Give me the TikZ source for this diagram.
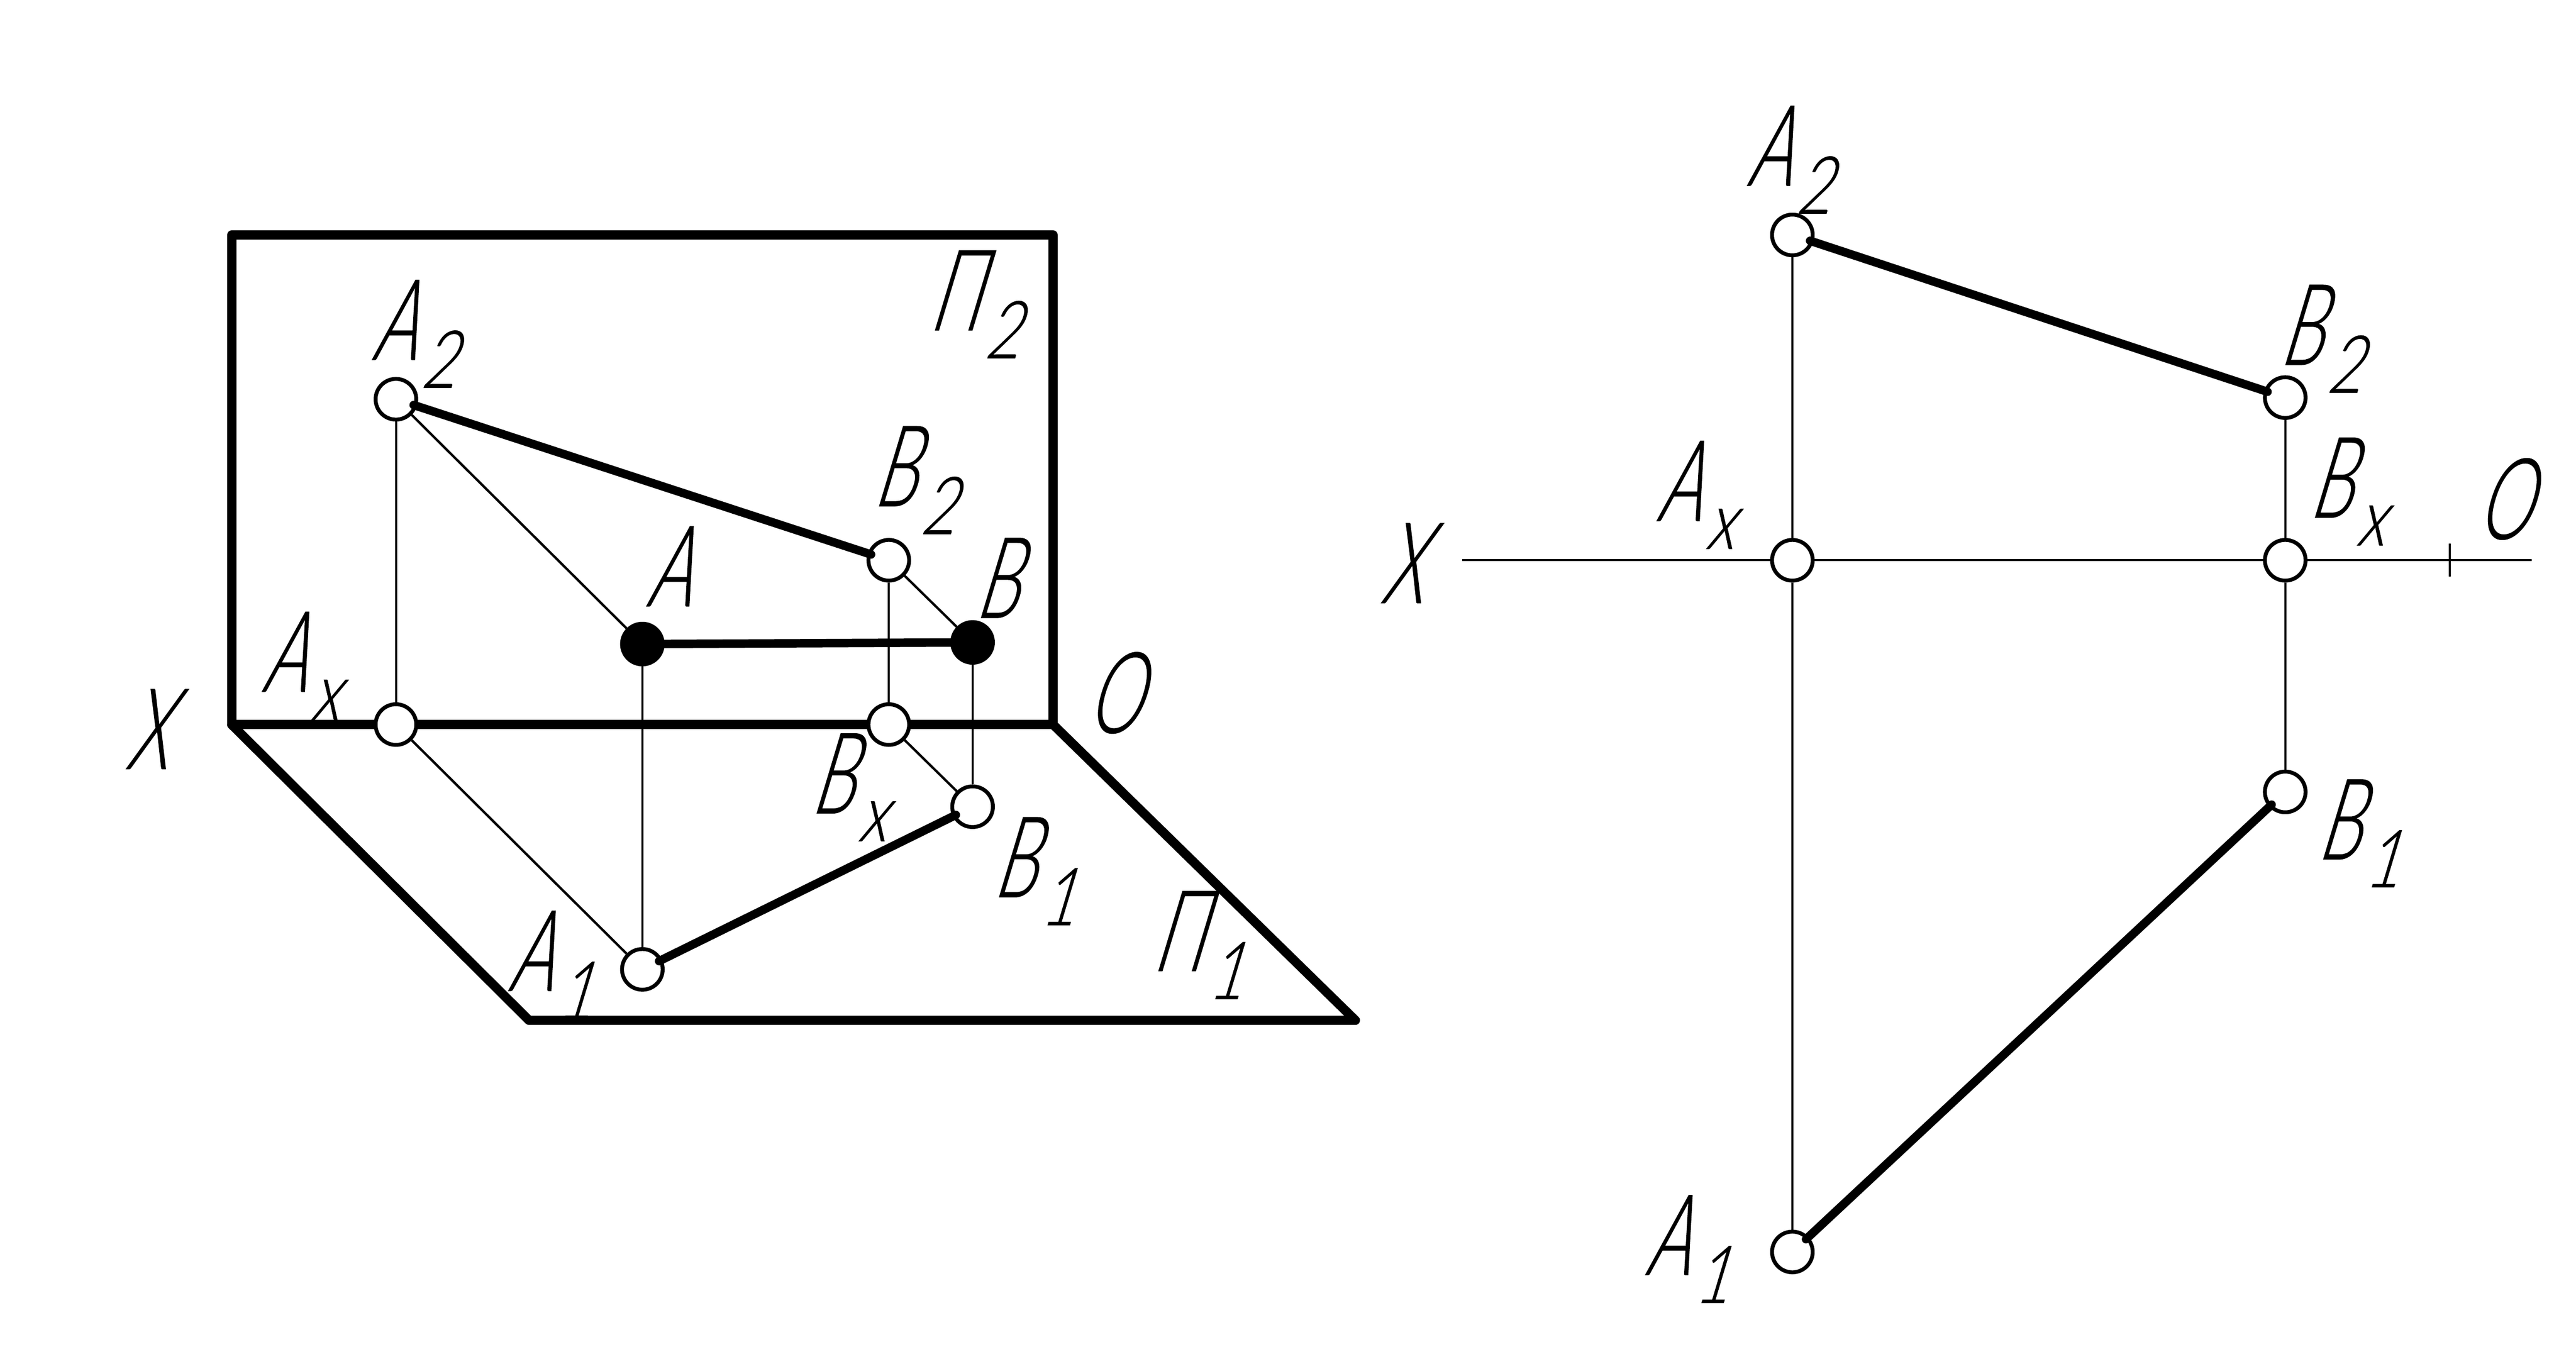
\documentclass[tikz,border=0pt]{standalone}
\usepackage{fontspec}
\setmainfont[FakeSlant=0.3,FakeStretch=0.6,FakeBold=0.6]{Lato Light}
\newfontfamily\subfont[FakeSlant=0.3,FakeStretch=0.75,FakeBold=0.6]{Lato Light}
\newcommand{\lab}[2]{#1\kern4pt\raisebox{-0.81cm}{\subfont\fontsize{66}{66}\selectfont #2}}
\tikzset{
  framel/.style={line width=7.6pt,line join=round,line cap=round},
  thickl/.style={line width=7pt,line cap=round,shorten <=-3pt,shorten >=-3pt},
  thinl/.style={line width=2pt},
  vthinl/.style={line width=1.7pt},
  opt/.style={circle,draw,fill=white,line width=3.2pt,minimum size=1.18cm,inner sep=0pt},
  spt/.style={circle,draw,fill=black,line width=3.2pt,minimum size=1.18cm,inner sep=0pt},
  lbl/.style={anchor=base west,inner sep=0pt,outer sep=0pt,font=\fontsize{93}{93}\selectfont}
}
\begin{document}
\begin{tikzpicture}[x=0.04765cm,y=-0.04765cm]
\useasboundingbox (0,0) rectangle (1568,833);
% plane corners
\coordinate (f1) at (141,143);
\coordinate (f2) at (641,143);
\coordinate (f3) at (641,441);
\coordinate (f4) at (141,441);
\coordinate (g1) at (322,621);
\coordinate (g2) at (825,621);
\draw[framel] (f1) -- (f2) -- (f3) -- (f4) -- cycle;
\draw[framel] (f4) -- (g1) -- (g2) -- (f3);
% left points
\node[opt] (lA2) at (241,243) {};
\node[opt] (lB2) at (541,341) {};
\node[spt] (lA) at (391,392) {};
\node[spt] (lB) at (592,391) {};
\node[opt] (lAx) at (241,441) {};
\node[opt] (lBx) at (541,441) {};
\node[opt] (lA1) at (391,590) {};
\node[opt] (lB1) at (592,491) {};
\draw[vthinl] (lA2) -- (lAx);
\draw[thinl] (lA2) -- (lA);
\draw[vthinl] (lA) -- (lA1);
\draw[thinl] (lAx) -- (lA1);
\draw[vthinl] (lB2) -- (lBx);
\draw[thinl] (lB2) -- (lB);
\draw[vthinl] (lB) -- (lB1);
\draw[thinl] (lBx) -- (lB1);
\draw[thickl] (lA2) -- (lB2);
\draw[thickl] (lA) -- (lB);
\draw[thickl] (lA1) -- (lB1);
% left labels
\node[lbl] (tlA2) at (226,219) {\lab{A}{2}};
\node[lbl] (tlP2) at (565,201) {\lab{Π}{2}};
\node[lbl] (tlB2) at (531,308) {\lab{B}{2}};
\node[lbl] (tlA) at (393,369) {A};
\node[lbl] (tlB) at (593,376) {B};
\node[lbl] (tlAx) at (159,421) {\lab{A}{x}};
\node[lbl] (tlO) at (661,446) {O};
\node[lbl] (tlX) at (76,468) {X};
\node[lbl] (tlBx) at (493,495) {\lab{B}{x}};
\node[lbl] (tlB1) at (604,546) {\lab{B}{1}};
\node[lbl] (tlA1) at (309,603) {\lab{A}{1}};
\node[lbl] (tlP1) at (701,591) {\lab{Π}{1}};
% right: axis
\coordinate (xa) at (890,341);
\coordinate (xb) at (1541,341);
\coordinate (t1) at (1491,331);
\coordinate (t2) at (1491,351);
\draw[vthinl] (xa) -- (xb);
\draw[vthinl] (t1) -- (t2);
% right points
\node[opt] (rA2) at (1091,143) {};
\node[opt] (rB2) at (1391,242) {};
\node[opt] (rAx) at (1091,341) {};
\node[opt] (rBx) at (1391,341) {};
\node[opt] (rB1) at (1391,482) {};
\node[opt] (rA1) at (1091,762) {};
\draw[vthinl] (rA2) -- (rAx);
\draw[vthinl] (rAx) -- (rA1);
\draw[vthinl] (rB2) -- (rBx);
\draw[vthinl] (rBx) -- (rB1);
\draw[thickl] (rA2) -- (rB2);
\draw[thickl] (rA1) -- (rB1);
% right labels
\node[lbl] (trA2) at (1063,113) {\lab{A}{2}};
\node[lbl] (trB2) at (1387,222) {\lab{B}{2}};
\node[lbl] (trAx) at (1008,317) {\lab{A}{x}};
\node[lbl] (trBx) at (1405,315) {\lab{B}{x}};
\node[lbl] (trO) at (1507,328) {O};
\node[lbl] (trX) at (840,367) {X};
\node[lbl] (trB1) at (1410,523) {\lab{B}{1}};
\node[lbl] (trA1) at (1001,776) {\lab{A}{1}};
\end{tikzpicture}
\end{document}
